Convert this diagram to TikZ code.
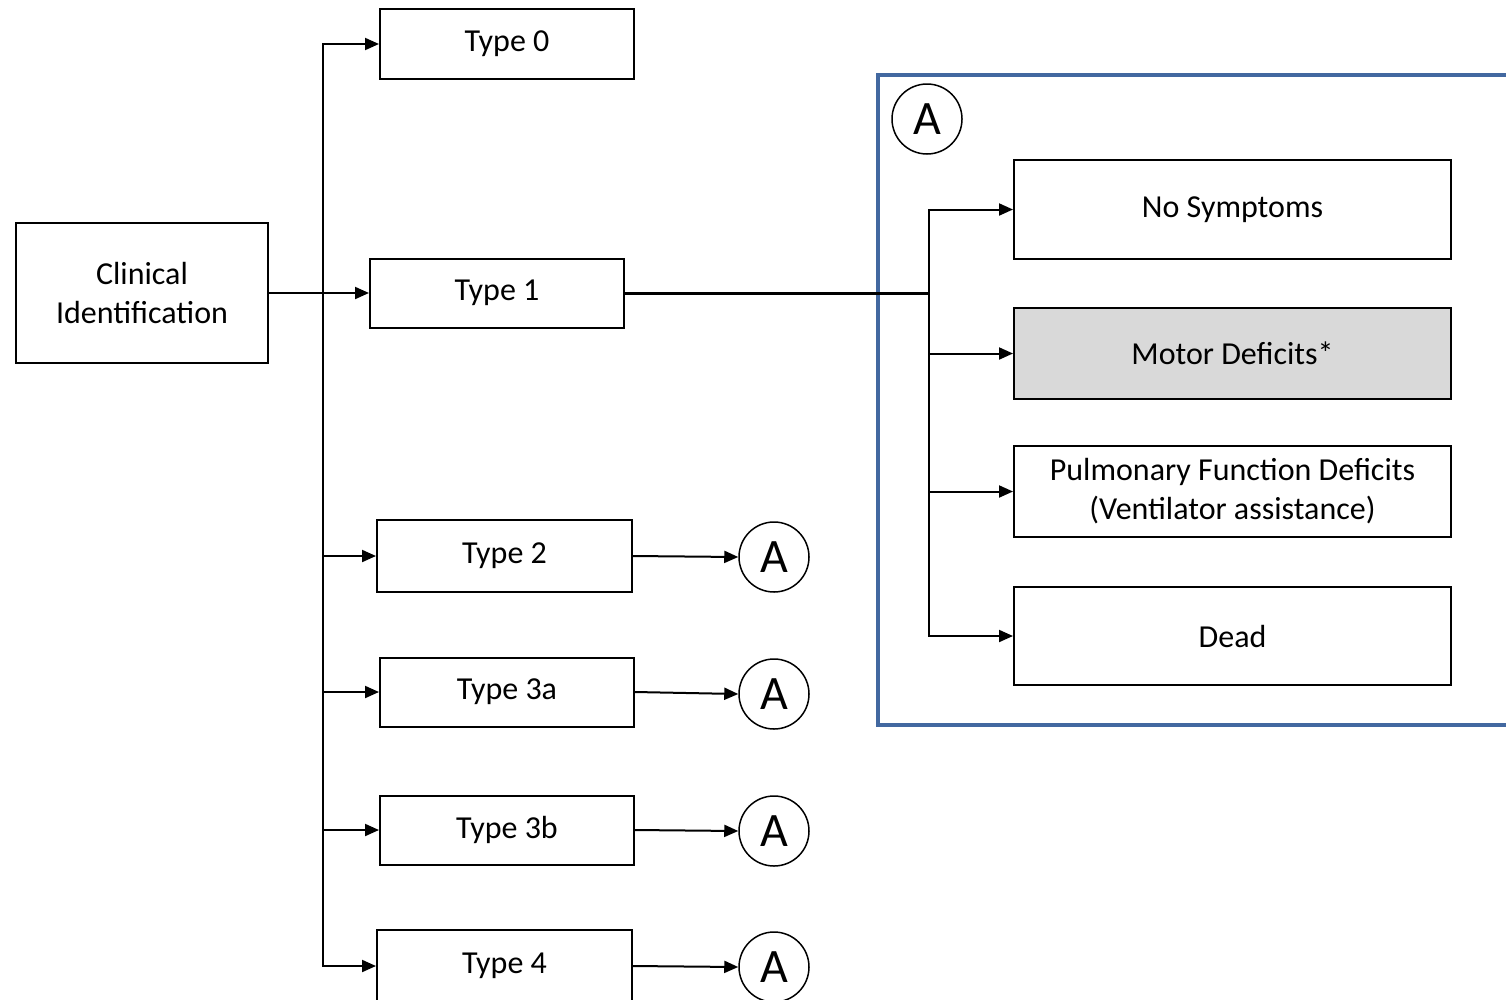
\documentclass[tikz,border=0pt]{standalone}
\usepackage{fontspec}
\setmainfont{Carlito}
\usetikzlibrary{arrows.meta,positioning}
\definecolor{frameblue}{RGB}{66,104,160}
\definecolor{motorgray}{RGB}{217,217,217}
\begin{document}
\begin{tikzpicture}[x=1pt,y=-1pt,
  box/.style={draw=black,line width=2pt,inner sep=0pt,align=center,font=\fontsize{32}{39}\selectfont},
  circ/.style={draw=black,circle,line width=1.5pt,minimum size=70pt,inner sep=0pt,font=\fontsize{48}{48}\selectfont},
  conn/.style={line width=2pt,-{Triangle[length=14pt,width=12pt]}},
  plain/.style={line width=2pt}]
\useasboundingbox (0,0) rectangle (1506,999);
\clip (0,0) rectangle (1506,999);
% blue frame
\draw[frameblue,line width=4pt] (1520,75) -- (878,75) -- (878,725) -- (1520,725);
% left nodes
\node[box,minimum width=252pt,minimum height=140pt] (clin) at (142,293) {Clinical\\Identification};
\node[box,minimum width=254pt,minimum height=70pt] (t0) at (507,44) {Type 0};
\node[box,minimum width=254pt,minimum height=69pt] (t1) at (497,293) {Type 1};
\node[box,minimum width=255pt,minimum height=72pt] (t2) at (504.5,556) {Type 2};
\node[box,minimum width=254pt,minimum height=69pt] (t3a) at (507,692) {Type 3a};
\node[box,minimum width=254pt,minimum height=69pt] (t3b) at (507,830) {Type 3b};
\node[box,minimum width=255pt,minimum height=72pt] (t4) at (504.5,966) {Type 4};
% circles
\node[circ] (a2) at (774,557) {A};
\node[circ] (a3a) at (774,694) {A};
\node[circ] (a3b) at (774,831) {A};
\node[circ] (a4) at (774,967) {A};
\node[circ] (aa) at (927,119) {A};
% right boxes
\node[box,minimum width=437pt,minimum height=99pt] (ns) at (1232.5,209.5) {No Symptoms};
\node[box,fill=motorgray,minimum width=437pt,minimum height=91pt] (md) at (1232.5,353.5) {Motor Deficits*};
\node[box,minimum width=437pt,minimum height=91pt] (pf) at (1232.5,491.5) {Pulmonary Function Deficits\\(Ventilator assistance)};
\node[box,minimum width=437pt,minimum height=98pt] (dd) at (1232.5,636) {Dead};
% trunk
\coordinate (tr) at (323,293);
\coordinate (br) at (929,293);
\draw[plain] (clin.east) -- (tr);
\draw[conn] (tr) -- (t1.west);
\draw[conn] (tr) |- (t0.west);
\draw[conn] (tr) |- (t2.west);
\draw[conn] (tr) |- (t3a.west);
\draw[conn] (tr) |- (t3b.west);
\draw[conn] (tr) |- (t4.west);
% type to circles
\draw[conn] (t2.east) -- (a2.west);
\draw[conn] (t3a.east) -- (a3a.west);
\draw[conn] (t3b.east) -- (a3b.west);
\draw[conn] (t4.east) -- (a4.west);
% type 1 branch
\draw[line width=3pt] (t1.east) -- (br);
\draw[conn] (br) |- (ns.west);
\draw[conn] (br) |- (md.west);
\draw[conn] (br) |- (pf.west);
\draw[conn] (br) |- (dd.west);
\end{tikzpicture}
\end{document}
